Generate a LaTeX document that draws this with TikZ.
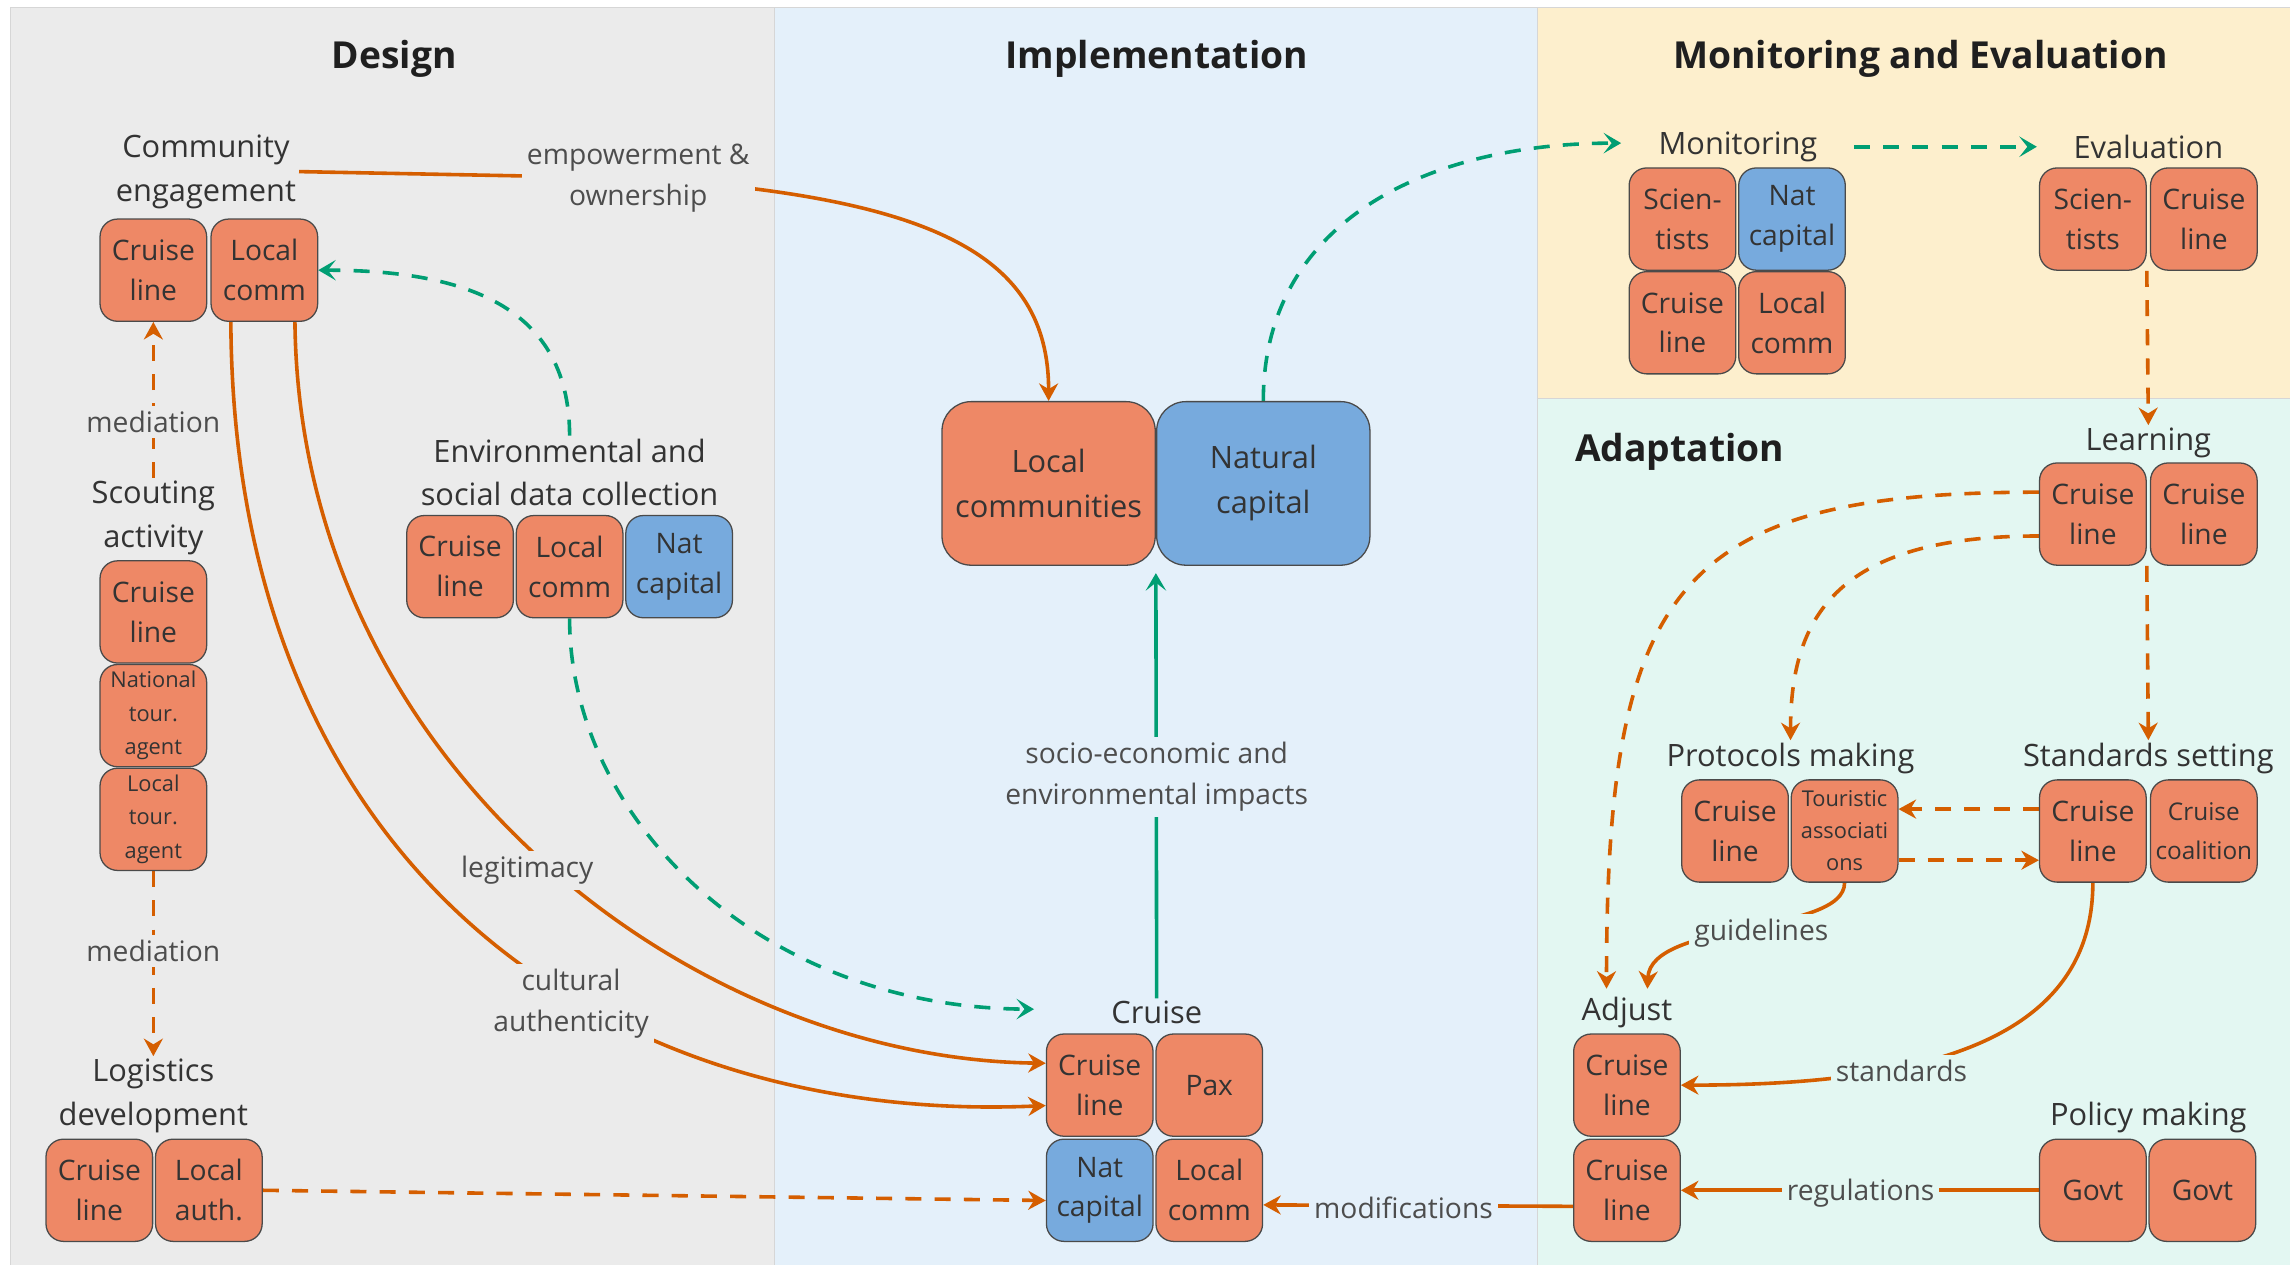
\documentclass[tikz,border=0pt]{standalone}
\usepackage{fontspec}
\setmainfont{Open Sans}
\usepackage{tikz}
\usetikzlibrary{arrows.meta}

\definecolor{actorc}{HTML}{EE8866}
\definecolor{capc}{HTML}{77AADD}
\definecolor{flowo}{HTML}{D55E00}
\definecolor{flowg}{HTML}{009E73}
\definecolor{boxline}{HTML}{4A4A4A}
\definecolor{txt}{HTML}{333333}
\definecolor{lbltxt}{HTML}{4D4D4D}
\definecolor{designbg}{HTML}{EBEBEB}
\definecolor{implbg}{HTML}{E4F0FA}
\definecolor{monbg}{HTML}{FDEFCD}
\definecolor{adaptbg}{HTML}{E3F7F2}
\definecolor{panelline}{HTML}{D6D6D6}

\pgfdeclarelayer{back}
\pgfdeclarelayer{links}
\pgfsetlayers{back,links,main}

\tikzstyle{olink}=[draw=flowo, line width=1.4pt]
\tikzstyle{glink}=[draw=flowg, line width=1.4pt]
\tikzstyle{otip}=[-{Stealth[length=2.4mm,width=2.6mm]}]
\tikzstyle{gtip}=[-{Stealth[length=2.4mm,width=2.8mm,inset=1.1mm]}]
\tikzstyle{brk}=[dash pattern=on 2.2mm off 1.8mm]
\def\boxw{14.6mm}
\def\boxh{14mm}

\begin{document}
\begin{tikzpicture}[x=0.2mm,y=-0.2mm]
    \tikzstyle{actor}=[rectangle, rounded corners=2.4mm, draw=boxline, line width=0.5pt,
                       fill=actorc, minimum width=\boxw, minimum height=\boxh, inner sep=0.5pt,
                       align=center, text=txt, font=\fontsize{11}{15.5}\selectfont]
    \tikzstyle{capital}=[actor, fill=capc]
    \tikzstyle{small actor}=[actor, font=\fontsize{8.5}{13}\selectfont]
    \tikzstyle{big actor}=[actor, rounded corners=4mm, minimum width=29.2mm,
                           minimum height=22.4mm, font=\fontsize{12}{17.5}\selectfont]
    \tikzstyle{stage}=[align=center, text=txt, inner sep=1pt, yshift=-0.5mm, font=\fontsize{12}{17}\selectfont]
    \tikzstyle{flow label}=[align=center, text=lbltxt, inner sep=2pt, yshift=-0.4mm, font=\fontsize{11}{16}\selectfont]
    \tikzstyle{phase}=[text=black!88, yshift=-0.5mm, font=\bfseries\fontsize{14.5}{18}\selectfont]

    \useasboundingbox (0,0) rectangle (1568,866);

    % Draw the phase panels
    \begin{pgfonlayer}{back}
        \fill[white] (0,0) rectangle (1568,866);
        \filldraw[fill=designbg, draw=panelline] (7,5) rectangle (530,872);
        \filldraw[fill=implbg, draw=panelline] (530,5) rectangle (1053,872);
        \filldraw[fill=monbg, draw=panelline] (1053,5) rectangle (1572,273);
        \filldraw[fill=adaptbg, draw=panelline] (1053,273) rectangle (1572,872);
    \end{pgfonlayer}

    \node[phase] (phDes) at (270,38) {Design};
    \node[phase] (phImp) at (792,38) {Implementation};
    \node[phase] (phMon) at (1315,38) {Monitoring and Evaluation};
    \node[phase] (phAda) at (1150,307) {Adaptation};

    % Draw the design stages
    \node[stage] (ceL) at (141,115) {Community\\engagement};
    \node[actor] (CE-1) at (105,185) {Cruise\\line};
    \node[actor] (CE-2) at (181,185) {Local\\comm};

    \node[stage] (saL) at (105,352) {Scouting\\activity};
    \node[actor] (SA-1) at (105,419) {Cruise\\line};
    \node[small actor] (SA-2) at (105,490) {National\\tour.\\agent};
    \node[small actor] (SA-3) at (105,561) {Local\\tour.\\agent};

    \node[stage] (ldL) at (105,748) {Logistics\\development};
    \node[actor] (LD-1) at (68,815) {Cruise\\line};
    \node[actor] (LD-2) at (143,815) {Local\\auth.};

    \node[stage] (edL) at (390,321) {Environmental and\\social data collection};
    \node[actor] (ED-1) at (315,388) {Cruise\\line};
    \node[actor] (ED-2) at (390,388) {Local\\comm};
    \node[capital] (ED-3) at (465,388) {Nat\\capital};

    % Draw the implementation stages
    \node[big actor] (LC-1) at (718,331) {Local\\communities};
    \node[big actor, fill=capc] (NC-1) at (865,331) {Natural\\capital};

    \node[stage] (crL) at (792,691) {Cruise};
    \node[actor] (CR-1) at (753,743) {Cruise\\line};
    \node[actor] (CR-2) at (828,743) {Pax};
    \node[capital] (CR-3) at (753,815) {Nat\\capital};
    \node[actor] (CR-4) at (828,815) {Local\\comm};

    % Draw the monitoring and evaluation stages
    \node[stage] (moL) at (1190,98) {Monitoring};
    \foreach \name/\x/\y/\txt in {1/1152/150/{Scien-\\tists}, 3/1152/221/{Cruise\\line}, 4/1227/221/{Local\\comm}}
        \node[actor] (MO-\name) at (\x,\y) {\txt};
    \node[capital] (MO-2) at (1227,150) {Nat\\capital};

    \node[stage] (evL) at (1471,98) {Evaluation};
    \node[actor] (EV-1) at (1433,150) {Scien-\\tists};
    \node[actor] (EV-2) at (1509,150) {Cruise\\line};

    % Draw the adaptation stages
    \node[stage] (leL) at (1471,301) {Learning};
    \foreach \name/\x in {1/1433,2/1509}
        \node[actor] (LE-\name) at (\x,352) {Cruise\\line};

    \node[stage] (pmL) at (1226,517) {Protocols making};
    \node[actor] (PR-1) at (1188,569) {Cruise\\line};
    \node[small actor, font=\fontsize{8.5}{12.5}\selectfont] (PR-2) at (1263,569) {Touristic\\associati\\ons};

    \node[stage] (ssL) at (1471,517) {Standards setting};
    \node[actor] (SS-1) at (1433,569) {Cruise\\line};
    \node[actor, font=\fontsize{9.5}{15}\selectfont] (SS-2) at (1509,569) {Cruise\\coalition};

    \node[stage] (adL) at (1114,691) {Adjust};
    \foreach \name/\y in {1/743,2/815}
        \node[actor] (AD-\name) at (1114,\y) {Cruise\\line};

    \node[stage] (poL) at (1471,763) {Policy making};
    \foreach \name/\x in {1/1433,2/1508}
        \node[actor] (PM-\name) at (\x,815) {Govt};

    % free arrow ends
    \coordinate (crIn) at (708,691);
    \coordinate (moIn) at (1110,98);
    \coordinate (adIn-1) at (1100,677);
    \coordinate (adIn-2) at (1128,677);

    % Annotate the links
    \node[flow label, fill=designbg] (emp) at (437,120) {empowerment \&\\ownership};
    \node[flow label, fill=designbg] (med-1) at (105,287) {mediation};
    \node[flow label, fill=designbg] (med-2) at (105,649) {mediation};
    \node[flow label, fill=designbg] (legit) at (361,594) {legitimacy};
    \node[flow label, fill=designbg] (cult) at (391,685) {cultural\\authenticity};
    \node[flow label, fill=implbg] (socio) at (792,530) {socio-economic and\\environmental impacts};
    \node[flow label, fill=implbg] (mods) at (961,825) {modifications};
    \node[flow label, fill=adaptbg] (guide) at (1206,637) {guidelines};
    \node[flow label, fill=adaptbg] (stand) at (1302,731) {standards};
    \node[flow label, fill=adaptbg] (regs) at (1274,815) {regulations};

    % connect the stages
    \begin{pgfonlayer}{links}
        \draw[olink, otip] (ceL.east) -- (emp.center) .. controls (640,135) and (718,175) .. (LC-1.north);
        \draw[olink, otip] ([xshift=-3.2mm]CE-2.south east) .. controls (205,520) and (470,725) .. ([yshift=3mm]CR-1.west);
        \draw[olink, otip] ([xshift=2.8mm]CE-2.south west) .. controls (160,600) and (420,770) .. ([yshift=-2.8mm]CR-1.west);
        \draw[glink, gtip, brk] (edL.north) .. controls (390,205) and (310,185) .. (CE-2.east);
        \draw[glink, gtip, brk] (ED-2.south) .. controls (390,560) and (520,690) .. (crIn);
        \draw[olink, otip, brk] (saL.north) -- (CE-1.south);
        \draw[olink, otip, brk] (SA-3.south) -- (ldL.north);
        \draw[olink, otip, brk] (LD-2.east) -- ([yshift=-1.4mm]CR-3.west);

        \draw[glink, gtip] (crL.north) -- ([yshift=-1mm]LC-1.south east);
        \draw[glink, gtip, brk] (NC-1.north) .. controls (865,150) and (980,98) .. (moIn);
        \draw[glink, gtip, brk, shorten <=4.6mm, shorten >=4.6mm] (moL.east) -- (evL.west);
        \draw[olink, otip, brk] (EV-1.south east) -- (leL.north);

        \draw[olink, otip, brk] ([yshift=3mm]LE-1.west) .. controls (1150,337) and (1100,400) .. (adIn-1);
        \draw[olink, otip, brk] ([yshift=-3mm]LE-1.west) .. controls (1260,367) and (1226,420) .. (pmL.north);
        \draw[olink, otip, brk] (LE-1.south east) -- (ssL.north);
        \draw[olink, otip, brk] ([yshift=3mm]SS-1.west) -- ([yshift=3mm]PR-2.east);
        \draw[olink, otip, brk] ([yshift=-4mm]PR-2.east) -- ([yshift=-4mm]SS-1.west);

        \draw[olink, otip] (PR-2.south) .. controls (1263,640) and (1130,630) .. (adIn-2);
        \draw[olink, otip] (SS-1.south) .. controls (1433,720) and (1300,743) .. (AD-1.east);
        \draw[olink, otip] (PM-1.west) -- (AD-2.east);
        \draw[olink, otip] ([yshift=-2.2mm]AD-2.west) -- ([yshift=-2mm]CR-4.east);
    \end{pgfonlayer}
\end{tikzpicture}
\end{document}
